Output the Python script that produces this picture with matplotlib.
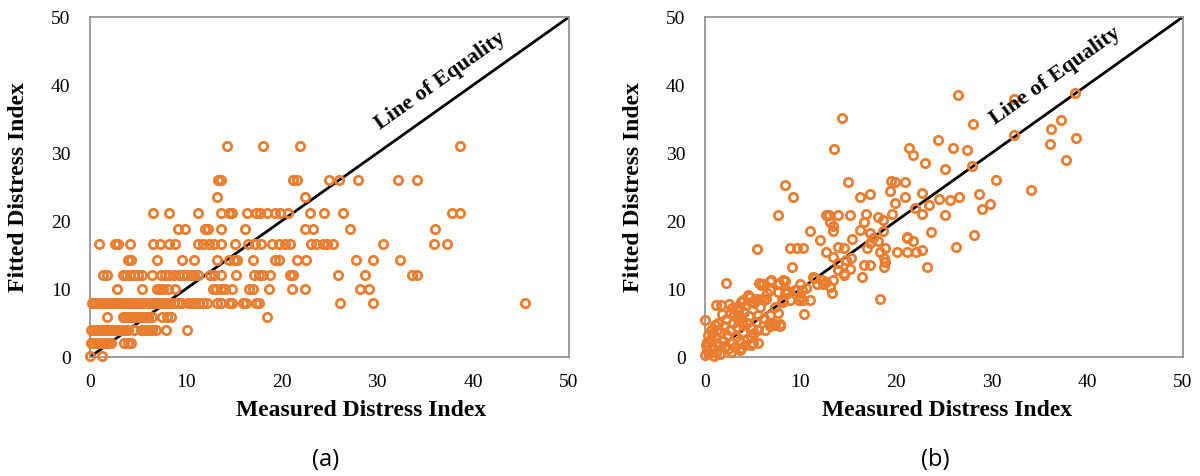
import matplotlib
matplotlib.use("Agg")
import matplotlib.pyplot as plt

# ---------------- Panel (a) data ----------------
meas_a = [
    0.0, 1.3,
    0.1, 0.4, 0.7, 1.0, 1.3, 1.6, 1.9, 2.2, 3.6, 4.0, 4.3,
    0.1, 0.4, 0.7, 1.0, 1.3, 1.6, 1.9, 2.2, 2.5, 2.8, 3.1, 3.4, 3.7, 4.0, 4.6, 5.3, 5.6, 5.9, 6.2, 6.5, 6.9, 7.9, 10.1,
    1.8, 3.4, 3.7, 4.0, 4.3, 4.6, 4.9, 5.2, 5.5, 5.8, 6.1, 6.5, 7.5, 8.0, 8.5, 18.5,
    0.2, 0.5, 0.8, 1.1, 1.4, 1.7, 2.0, 2.3, 2.6, 2.9, 3.2, 3.5, 3.8, 4.1, 4.4, 4.7, 5.0, 5.3, 5.6, 5.9, 6.2, 6.5, 6.8,
    7.1, 7.4, 7.7, 8.0, 8.4, 8.8, 9.2, 9.6, 10.2, 10.6, 11.0, 11.4, 11.8, 12.2, 13.3, 13.7, 14.5, 14.8, 16.0, 16.3,
    17.3, 17.6, 26.1, 29.6, 45.4,
    2.8, 5.4, 7.0, 7.3, 7.6, 8.1, 8.9, 12.8, 13.2, 13.7, 14.1, 14.8, 16.6, 17.0, 18.7, 21.1, 22.4, 28.2, 29.1,
    1.4, 1.8, 3.4, 3.8, 4.2, 4.6, 5.0, 5.4, 6.5, 7.4, 7.8, 8.3, 8.8, 9.3, 9.7, 10.1, 10.5, 10.9, 11.3, 12.5, 12.9,
    13.7, 15.2, 17.1, 17.6, 18.1, 18.8, 20.9, 21.2, 25.9, 28.7, 33.6, 34.1,
    4.0, 4.3, 7.0, 9.6, 10.9, 13.3, 14.5, 15.0, 15.4, 17.0, 19.3, 19.7, 21.6, 22.6, 27.8, 29.6, 32.4,
    0.9, 2.6, 2.9, 4.2, 6.6, 7.3, 8.2, 8.9, 11.3, 11.8, 12.4, 13.0, 13.7, 15.1, 16.5, 17.2, 17.9, 19.0, 19.7, 20.4,
    20.9, 23.1, 23.6, 24.3, 24.8, 25.4, 30.6, 35.9, 37.3,
    9.2, 9.9, 12.0, 12.3, 13.7, 16.2, 22.4, 23.3, 27.1, 36.0,
    6.6, 8.2, 11.3, 13.7, 14.5, 14.8, 16.4, 17.3, 17.8, 18.5, 19.3, 19.8, 20.7, 23.0, 24.4, 26.4, 37.8, 38.6,
    13.3, 22.4,
    13.4, 13.7, 21.2, 21.6, 25.0, 26.0, 28.0, 32.2, 34.1,
    14.3, 18.1, 21.9, 38.6,
]
fit_a = (
    [0.2] * 2 + [2.0] * 11 + [3.9] * 23 + [5.9] * 16 + [7.9] * 48 + [10.0] * 19 +
    [12.1] * 33 + [14.3] * 17 + [16.6] * 29 + [18.9] * 10 + [21.2] * 18 +
    [23.6] * 2 + [26.0] * 9 + [31.0] * 4
)

# ---------------- Panel (b) data ----------------
meas_b = [
    26.5, 32.4, 38.7, 14.3, 28.1, 37.3, 36.2, 32.4, 38.8, 36.1, 24.4, 13.5, 21.4, 26.0, 27.4, 21.8, 23.0, 37.8,
    27.9, 25.1, 30.5, 15.0, 8.4, 19.5, 19.9, 20.9, 19.4, 17.3, 16.2, 9.2, 20.9, 22.7, 24.5, 25.6, 26.6, 28.7, 34.1,
    19.9, 22.0, 22.7, 23.5, 25.1, 29.0, 29.8, 23.7, 21.1, 28.2,
    7.6, 12.7, 13.0, 13.9, 15.2, 13.1, 13.4, 13.4, 16.9, 18.1, 18.6, 19.6, 16.6, 16.2, 17.3, 17.6, 17.3, 18.1,
    18.6, 18.8, 18.3, 17.0, 11.0, 12.0, 15.4, 8.9, 9.6, 10.3, 5.4, 12.7, 13.4, 13.9, 13.9, 14.8, 15.3, 15.2,
    14.5, 16.6, 17.3, 16.4, 18.7, 18.7, 18.8, 20.1, 21.1, 22.1, 21.1, 21.8, 22.7, 23.2, 26.3, 9.1, 13.9, 14.6,
    8.2, 8.5, 9.6, 9.9, 10.6, 11.3, 11.7, 12.4, 13.1, 13.4, 11.5, 12.2, 13.3, 18.3, 10.3, 11.0, 9.9, 8.2, 10.4,
    14.6, 12.7,
    5.7, 6.1, 6.9, 7.7, 6.8, 7.6, 8.4, 5.9, 6.8, 7.6, 8.4, 8.6, 8.9, 8.1, 6.2, 5.8, 6.5, 5.3, 5.4, 5.9, 6.4,
    7.6, 6.7, 7.3, 7.9, 5.5, 6.2, 7.1, 7.8, 6.8, 6.3, 6.8, 7.3, 9.4, 10.2, 9.8,
    2.2, 1.7, 1.1, 0.0, 2.8, 3.8, 4.8, 4.5, 4.0, 4.7, 5.1, 3.3, 2.6, 3.7, 4.4, 5.1, 5.6, 3.7, 2.8, 2.3, 0.5,
    0.2, 1.2, 0.0, 1.0, 1.7, 4.0, 4.8, 4.2, 4.8, 3.8, 5.0,
    0.1, 0.3, 0.6, 0.8, 1.0, 1.3, 1.5, 1.6, 1.9, 2.0, 2.2, 2.4, 2.6, 2.9, 3.0, 3.2, 3.4, 3.5, 3.9, 4.1, 4.3,
    4.6, 4.9, 3.1, 2.7, 0.4, 0.9, 0.2, 1.4, 1.8, 2.5, 3.6, 4.4, 5.3, 0.7, 1.2, 2.1, 3.3, 4.0, 5.5,
]
fit_b = [
    38.5, 38.0, 38.8, 35.2, 34.3, 34.9, 33.6, 32.6, 32.2, 31.4, 31.9, 30.6, 30.7, 30.7, 30.5, 29.7, 28.5, 29.0,
    28.1, 27.7, 26.0, 25.8, 25.3, 25.9, 25.8, 25.8, 24.4, 24.0, 23.6, 23.5, 23.6, 24.1, 23.2, 23.1, 23.6, 24.0, 24.5,
    22.6, 21.9, 21.1, 22.4, 20.9, 21.7, 22.5, 18.4, 17.7, 17.9,
    20.9, 20.9, 20.9, 20.9, 20.9, 19.9, 19.2, 18.5, 21.1, 20.6, 20.2, 21.0, 19.9, 18.7, 18.2, 17.5, 16.7, 17.0,
    18.6, 16.0, 15.5, 16.0, 18.5, 17.2, 17.4, 16.0, 16.0, 16.0, 15.9, 15.5, 14.7, 13.8, 12.8, 14.3, 14.5, 13.0,
    12.1, 13.5, 13.5, 11.8, 14.5, 13.3, 14.0, 15.5, 15.5, 15.5, 17.5, 17.0, 15.7, 13.3, 16.2, 13.3, 16.2, 16.1,
    11.3, 9.9, 9.9, 10.8, 10.1, 11.8, 10.8, 10.8, 10.3, 11.3, 11.6, 11.4, 9.4, 8.6, 8.4, 8.4, 8.9, 8.1, 6.3,
    12.3, 11.1,
    10.9, 10.8, 11.4, 10.9, 11.2, 10.8, 11.2, 10.6, 9.9, 9.6, 9.4, 9.4, 8.4, 8.4, 8.4, 7.4, 9.4, 8.4, 8.6, 8.6, 8.6,
    6.5, 5.0, 4.7, 4.8, 6.2, 5.7, 5.0, 4.5, 4.5, 4.0, 6.2, 7.4, 9.8, 9.8, 8.4,
    10.9, 7.6, 7.6, 5.4, 7.2, 8.1, 8.1, 9.1, 8.4, 8.9, 7.9, 7.4, 6.5, 5.9, 5.0, 3.5, 2.0, 1.0, 2.0, 3.2, 2.5,
    1.0, 0.6, 0.3, 4.7, 3.7, 3.7, 3.0, 1.8, 1.8, 1.3, 2.1,
    1.8, 3.2, 4.0, 1.3, 2.8, 3.9, 1.8, 0.4, 2.4, 4.6, 5.6, 1.2, 3.9, 5.0, 6.2, 3.0, 4.4, 6.8, 5.2, 6.6, 7.6,
    6.0, 4.3, 1.5, 0.8, 0.6, 0.2, 2.2, 5.0, 6.3, 7.8, 2.4, 2.6, 5.2, 3.5, 2.0, 1.6, 5.8, 4.7, 4.0,
]

axis_ticks = [0, 10, 20, 30, 40, 50]
equality = [0, 50]
panel_tags = ["(a)", "(b)"]

ORANGE = "#EA7D2F"
SERIF = "Liberation Serif"

fig = plt.figure(figsize=(12, 4.76), dpi=100)

panels = [
    (meas_a, fit_a, [0.075, 0.250, 0.399, 0.714], 0.566, (36.6, 40.6), 0.271),
    (meas_b, fit_b, [0.5875, 0.250, 0.398, 0.714], 0.507, (36.7, 41.4), 0.779),
]

for i, (mx, fy, rect, xlab_x, txt_xy, tag_x) in enumerate(panels):
    ax = fig.add_axes(rect)
    ax.plot(equality, equality, color="black", lw=2.0, zorder=2)
    ax.plot(mx, fy, linestyle="none", marker="o", markersize=6.0,
            markerfacecolor="none", markeredgecolor=ORANGE, markeredgewidth=2.0,
            zorder=3, clip_on=False)
    ax.set_xlim(0, 50)
    ax.set_ylim(0, 50)
    ax.set_xticks(axis_ticks)
    ax.set_yticks(axis_ticks)
    ax.tick_params(length=0, labelsize=14, pad=12)
    ax.tick_params(axis="y", pad=14)
    for lab in ax.get_xticklabels() + ax.get_yticklabels():
        lab.set_fontfamily(SERIF)
    for sp in ax.spines.values():
        sp.set_color("#8c8c8c")
        sp.set_linewidth(1.2)
    ax.set_xlabel("Measured Distress Index", fontsize=17, fontweight="bold",
                  fontfamily=SERIF)
    ax.set_ylabel("Fitted Distress Index", fontsize=17, fontweight="bold",
                  fontfamily=SERIF)
    ax.xaxis.set_label_coords(xlab_x, -0.156)
    ax.xaxis.label.set_va("center")
    ax.yaxis.set_label_coords(-0.150, 0.5)
    ax.yaxis.label.set_va("center")
    ax.text(txt_xy[0], txt_xy[1], "Line of Equality", fontsize=16,
            fontweight="bold", fontfamily=SERIF, rotation=35.4,
            rotation_mode="anchor", ha="center", va="center")
    fig.text(tag_x, 1 - 460 / 476, panel_tags[i], fontsize=17,
             fontfamily="Open Sans", ha="center", va="center")

fig.savefig("out.png", dpi=100)
